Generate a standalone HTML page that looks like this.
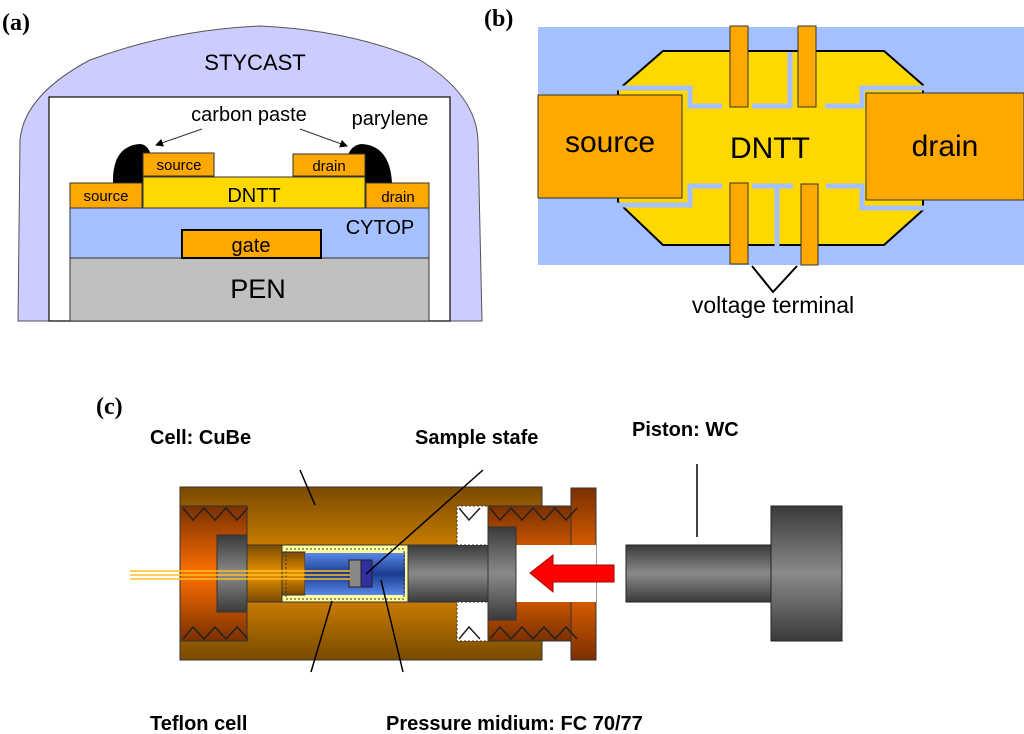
<!DOCTYPE html>
<html><head><meta charset="utf-8"><style>
html,body{margin:0;padding:0;background:#fff;width:1024px;height:734px;overflow:hidden}
svg{display:block}
text{font-family:"Liberation Sans",Arial,sans-serif}
text.lab{font-family:"Liberation Serif",serif;font-weight:bold;font-size:24px}
</style></head><body>
<svg width="1024" height="734" viewBox="0 0 1024 734" xmlns="http://www.w3.org/2000/svg">
<defs>
<linearGradient id="cu" x1="0" y1="0" x2="0" y2="1">
<stop offset="0" stop-color="#7a4a00"/><stop offset="0.45" stop-color="#e08c00"/><stop offset="0.55" stop-color="#e08c00"/><stop offset="1" stop-color="#7a4a00"/></linearGradient>
<linearGradient id="cap" x1="0" y1="0" x2="0" y2="1">
<stop offset="0" stop-color="#7a3000"/><stop offset="0.5" stop-color="#ff7000"/><stop offset="1" stop-color="#7a3000"/></linearGradient>
<linearGradient id="gr" x1="0" y1="0" x2="0" y2="1">
<stop offset="0" stop-color="#3a3a3a"/><stop offset="0.5" stop-color="#8a8a8a"/><stop offset="1" stop-color="#3a3a3a"/></linearGradient>
<linearGradient id="bl" x1="0" y1="0" x2="0" y2="1">
<stop offset="0" stop-color="#5a88e8"/><stop offset="0.5" stop-color="#1a3a90"/><stop offset="1" stop-color="#5a88e8"/></linearGradient>
<marker id="ah" markerWidth="8" markerHeight="8" refX="7" refY="4" orient="auto"><path d="M0,0 L8,4 L0,8 z" fill="#000"/></marker>
</defs>

<!-- (a) -->
<text class="lab" x="2" y="30">(a)</text>
<path d="M18,321 L20,140 Q24,95 90,60 Q170,30 260,26 Q350,30 420,60 Q476,95 478,140 L482,321 Z" fill="#ccccff" stroke="#555" stroke-width="1"/>
<rect x="49" y="97" width="401" height="224" fill="#fff" stroke="#333" stroke-width="1.5"/>
<text x="255" y="70" text-anchor="middle" font-size="22">STYCAST</text>
<rect x="70" y="258" width="359" height="63" fill="#c0c0c0" stroke="#333"/>
<text x="258" y="298" text-anchor="middle" font-size="27">PEN</text>
<rect x="70" y="208" width="359" height="50" fill="#a4c0ff" stroke="#333"/>
<text x="380" y="234" text-anchor="middle" font-size="20">CYTOP</text>
<rect x="182" y="230" width="139" height="28" fill="#ffa800" stroke="#000" stroke-width="2"/>
<text x="251" y="252" text-anchor="middle" font-size="20">gate</text>
<path d="M113,183 Q112,146 140,144 Q155,145 153,183 Z" fill="#000"/>
<path d="M345,183 Q343,145 362,144 Q390,146 392,183 Z" fill="#000"/>
<rect x="143" y="177" width="222" height="31" fill="#ffd800" stroke="#333"/>
<text x="254" y="202" text-anchor="middle" font-size="20">DNTT</text>
<rect x="70" y="183" width="72" height="25" fill="#ffa800" stroke="#333"/>
<text x="106" y="201" text-anchor="middle" font-size="15">source</text>
<rect x="366" y="183" width="63" height="25" fill="#ffa800" stroke="#333"/>
<text x="398" y="202" text-anchor="middle" font-size="15">drain</text>
<rect x="143" y="153" width="71" height="23" fill="#ffa800" stroke="#333"/>
<text x="179" y="170" text-anchor="middle" font-size="15">source</text>
<rect x="293" y="154" width="72" height="22" fill="#ffa800" stroke="#333"/>
<text x="329" y="171" text-anchor="middle" font-size="15">drain</text>
<text x="249" y="121" text-anchor="middle" font-size="20">carbon paste</text>
<text x="390" y="125" text-anchor="middle" font-size="20">parylene</text>
<line x1="202" y1="129" x2="156" y2="145" stroke="#333" marker-end="url(#ah)"/>
<line x1="300" y1="129" x2="347" y2="146" stroke="#333" marker-end="url(#ah)"/>

<!-- (b) -->
<text class="lab" x="484" y="26">(b)</text>
<rect x="538" y="27" width="486" height="238" fill="#a4c0ff"/>
<polygon points="663,51 884,51 923,85 923,210 884,245 663,245 618,202 618,90" fill="#ffd800" stroke="#000" stroke-width="2"/>
<path d="M610,88 H690 V106 H722 M752,106 H790 V52 M825,106 H862 V88 H934" fill="none" stroke="#a4c0ff" stroke-width="5"/>
<path d="M606,205 H690 V186 H722 M752,186 H777 V246 M777,186 H793 M826,186 H862 V208 H936" fill="none" stroke="#a4c0ff" stroke-width="5"/>
<rect x="538" y="95" width="144" height="103" fill="#ffa800" stroke="#333"/>
<text x="610" y="152" text-anchor="middle" font-size="30">source</text>
<rect x="866" y="93" width="158" height="107" fill="#ffa800" stroke="#333"/>
<text x="945" y="156" text-anchor="middle" font-size="30">drain</text>
<text x="770" y="158" text-anchor="middle" font-size="30">DNTT</text>
<rect x="730" y="26" width="18" height="81" fill="#ffa800" stroke="#333"/>
<rect x="798" y="26" width="18" height="81" fill="#ffa800" stroke="#333"/>
<rect x="730" y="183" width="18" height="81" fill="#ffa800" stroke="#333"/>
<rect x="801" y="184" width="17" height="81" fill="#ffa800" stroke="#333"/>
<path d="M752,266 L773,292 L797,266" fill="none" stroke="#000" stroke-width="2"/>
<text x="773" y="313" text-anchor="middle" font-size="23">voltage terminal</text>

<!-- (c) -->
<text class="lab" x="96" y="414">(c)</text>
<text x="150" y="444" font-weight="bold" font-size="20">Cell: CuBe</text>
<text x="415" y="444" font-weight="bold" font-size="20">Sample stafe</text>
<text x="632" y="436" font-weight="bold" font-size="20">Piston: WC</text>
<text x="150" y="730" font-weight="bold" font-size="20">Teflon cell</text>
<text x="386" y="730" font-weight="bold" font-size="20">Pressure midium: FC 70/77</text>

<rect x="180" y="487" width="362" height="173" fill="url(#cu)" stroke="#333"/>
<rect x="571" y="488" width="25" height="172" fill="url(#cap)" stroke="#333"/>
<rect x="180" y="506" width="67" height="135" fill="url(#cap)" stroke="#333"/>
<path d="M183,508 l10,12 l11,-12 l11,12 l11,-12 l11,12 l11,-12 M183,639 l10,-12 l11,12 l11,-12 l11,12 l11,-12 l11,12" fill="none" stroke="#222" stroke-width="1.5"/>
<rect x="217" y="535" width="30" height="77" fill="url(#gr)" stroke="#333"/>
<rect x="247" y="545" width="35" height="57" fill="url(#cu)" stroke="#333"/>
<rect x="282" y="545" width="126" height="57" fill="#ffffa0" stroke="#333"/>
<rect x="282" y="552" width="23" height="43" fill="url(#cu)" stroke="#333"/>
<rect x="305" y="553" width="100" height="42" fill="url(#bl)"/>
<rect x="286" y="549" width="118" height="50" fill="none" stroke="#333" stroke-dasharray="2,2"/>
<rect x="349" y="560" width="12" height="27" fill="#888" stroke="#222"/>
<rect x="361" y="560" width="11" height="27" fill="#3030a0" stroke="#222"/>
<path d="M130,571 H350 M130,575 H350 M130,579 H350" stroke="#ffc020" stroke-width="1.5"/>
<rect x="408" y="545" width="80" height="57" fill="url(#gr)" stroke="#333"/>
<rect x="457" y="506" width="31" height="39" fill="#fff" stroke="#333" stroke-dasharray="2,2"/>
<rect x="457" y="602" width="31" height="39" fill="#fff" stroke="#333" stroke-dasharray="2,2"/>
<rect x="488" y="506" width="83" height="135" fill="url(#cap)" stroke="#333"/>
<path d="M490,508 l10,12 l11,-12 l11,12 l11,-12 l11,12 l11,-12 l11,12 l11,-12 M490,639 l10,-12 l11,12 l11,-12 l11,12 l11,-12 l11,12 l11,-12 l11,12" fill="none" stroke="#222" stroke-width="1.5"/>
<path d="M459,508 l10,12 l11,-12 M459,639 l10,-12 l11,12" fill="none" stroke="#222" stroke-width="1.5"/>
<rect x="516" y="545" width="80" height="57" fill="#fff"/>
<rect x="488" y="527" width="28" height="93" fill="url(#gr)" stroke="#333"/>
<polygon points="530,573 553,555 553,565 614,565 614,582 553,582 553,592" fill="#ff0000" stroke="#a00"/>
<rect x="626" y="545" width="145" height="57" fill="url(#gr)" stroke="#222"/>
<rect x="771" y="506" width="71" height="135" fill="url(#gr)" stroke="#222"/>
<line x1="697" y1="464" x2="697" y2="537" stroke="#000" stroke-width="1.5"/>
<line x1="300" y1="470" x2="315" y2="505" stroke="#000" stroke-width="1.5"/>
<line x1="483" y1="470" x2="366" y2="574" stroke="#000" stroke-width="1.5"/>
<line x1="332" y1="601" x2="311" y2="672" stroke="#000" stroke-width="1.5"/>
<line x1="381" y1="580" x2="403" y2="672" stroke="#000" stroke-width="1.5"/>
</svg>
</body></html>
